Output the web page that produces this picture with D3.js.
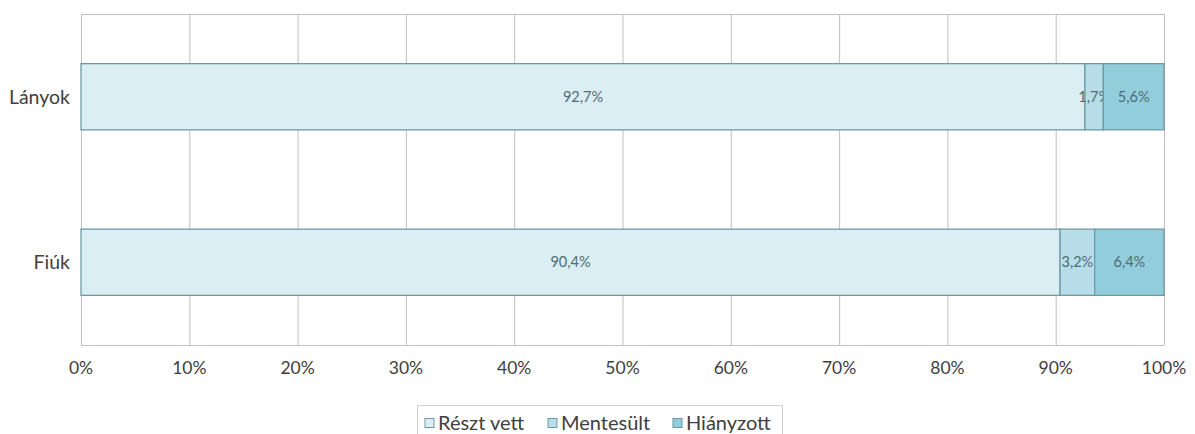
<!DOCTYPE html>
<html>
<head>
<meta charset="utf-8">
<script src="https://cdn.jsdelivr.net/npm/d3@7"></script>
<style>
  body { margin: 0; background: #fff; }
  text { font-family: Lato, "Open Sans", sans-serif; }
</style>
</head>
<body>
<div id="chart"></div>
<script>
// data
var categories = ["Lányok", "Fiúk"];
var seriesNames = ["Részt vett", "Mentesült", "Hiányzott"];
var reszt = [92.7, 90.4];
var mentesult = [1.7, 3.2];
var hianyzott = [5.6, 6.4];
var xTicks = [0, 10, 20, 30, 40, 50, 60, 70, 80, 90, 100];

var colors = ["#daeef3", "#b7dee8", "#92cddc"];

var W = 1195, H = 434;
var margin = {top: 14, right: 31, bottom: 89, left: 81},
    width = W - margin.left - margin.right,
    height = H - margin.top - margin.bottom;

var svg = d3.select("#chart")
  .append("svg")
    .attr("width", W)
    .attr("height", H)
  .append("g")
    .attr("transform", "translate(" + margin.left + "," + margin.top + ")");

var x = d3.scaleLinear().domain([0, 100]).range([0, width]);
var y = d3.scaleBand().domain(categories).range([0, height]).paddingInner(0.6).paddingOuter(0.3);

// gridlines
svg.selectAll(".grid")
  .data(xTicks)
  .enter()
  .append("line")
    .attr("x1", function(d) { return x(d) + 0.5; })
    .attr("x2", function(d) { return x(d) + 0.5; })
    .attr("y1", 0)
    .attr("y2", height)
    .attr("stroke", "#bfbfbf")
    .attr("stroke-width", 1);

svg.append("line")
  .attr("x1", 0).attr("x2", width)
  .attr("y1", 0.5).attr("y2", 0.5)
  .attr("stroke", "#bfbfbf");
svg.append("line")
  .attr("x1", 0).attr("x2", width)
  .attr("y1", height + 0.5).attr("y2", height + 0.5)
  .attr("stroke", "#bfbfbf");

// stacked data
var rows = categories.map(function(c, i) {
  return {cat: c, "Részt vett": reszt[i], "Mentesült": mentesult[i], "Hiányzott": hianyzott[i]};
});
var stack = d3.stack().keys(seriesNames)(rows);

var layers = svg.selectAll(".layer")
  .data(stack)
  .enter()
  .append("g")
    .attr("fill", function(d, i) { return colors[i]; });

layers.selectAll("rect")
  .data(function(d) { return d; })
  .enter()
  .append("rect")
    .attr("x", function(d) { return x(d[0]); })
    .attr("width", function(d) { return x(d[1]) - x(d[0]); })
    .attr("y", function(d) { return y(d.data.cat); })
    .attr("height", y.bandwidth())
    .attr("stroke", "#6f9aa5")
    .attr("stroke-width", 1.3);

// value labels
layers.selectAll("text")
  .data(function(d) { return d; })
  .enter()
  .append("text")
    .attr("x", function(d) { return (x(d[0]) + x(d[1])) / 2; })
    .attr("y", function(d) { return y(d.data.cat) + y.bandwidth() / 2; })
    .attr("dy", "0.35em")
    .attr("text-anchor", "middle")
    .attr("font-size", 14.5)
    .attr("fill", "#4f6b74")
    .text(function(d) { return (d[1] - d[0]).toFixed(1).replace(".", ",") + "%"; });

// category labels
svg.selectAll(".cat")
  .data(categories)
  .enter()
  .append("text")
    .attr("x", -11)
    .attr("y", function(d) { return y(d) + y.bandwidth() / 2; })
    .attr("dy", "0.35em")
    .attr("text-anchor", "end")
    .attr("font-size", 19.5)
    .attr("fill", "#404040")
    .text(function(d) { return d; });

// x tick labels
svg.selectAll(".xt")
  .data(xTicks)
  .enter()
  .append("text")
    .attr("x", function(d) { return x(d); })
    .attr("y", height + 23)
    .attr("dy", "0.35em")
    .attr("text-anchor", "middle")
    .attr("font-size", 17.5)
    .attr("fill", "#404040")
    .text(function(d) { return d + "%"; });

// legend
var legend = svg.append("g")
  .attr("transform", "translate(" + (417 - margin.left) + "," + (405 - margin.top) + ")");
legend.append("rect")
  .attr("x", 0.5).attr("y", 0.5)
  .attr("width", 365).attr("height", 40)
  .attr("fill", "#fff")
  .attr("stroke", "#d0d0d0");

var legendX = [8, 131, 256];
var items = legend.selectAll(".li")
  .data(seriesNames)
  .enter()
  .append("g")
    .attr("transform", function(d, i) { return "translate(" + legendX[i] + ",18)"; });
items.append("rect")
  .attr("x", 0).attr("y", -4.5)
  .attr("width", 9).attr("height", 9)
  .attr("fill", function(d, i) { return colors[i]; })
  .attr("stroke", "#6f9aa5");
items.append("text")
  .attr("x", 13)
  .attr("y", 0)
  .attr("dy", "0.35em")
  .attr("font-size", 20)
  .attr("fill", "#404040")
  .text(function(d) { return d; });
</script>
</body>
</html>
